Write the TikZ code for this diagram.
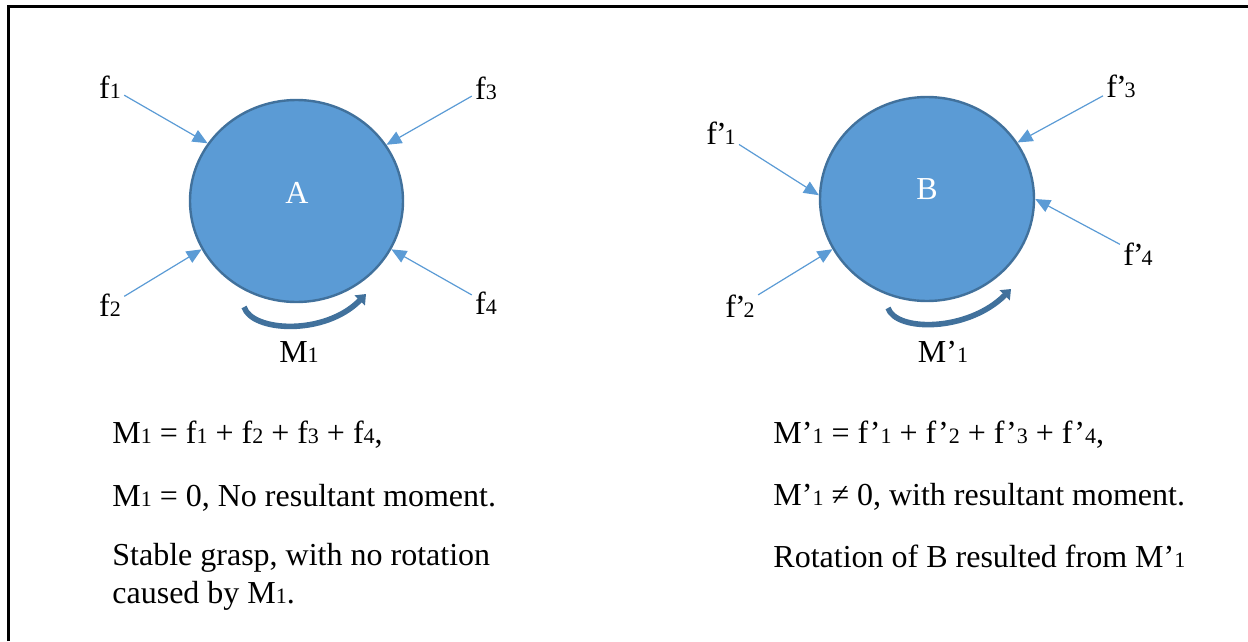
\documentclass[tikz,border=0pt]{standalone}
\usepackage{fontspec}
\setmainfont{Liberation Serif}
\usepackage{tikz}
\usetikzlibrary{shapes.geometric, arrows.meta, positioning}
\definecolor{fillblue}{HTML}{5B9BD5}
\definecolor{edgeblue}{HTML}{41719C}
\tikzset{
	body/.style={ellipse, draw=edgeblue, line width=1.2bp, fill=fillblue, inner sep=0pt, font=\fontsize{16bp}{19bp}\selectfont\color{white}}
}
\tikzset{
	forcelabel/.style={inner sep=1.5bp, font=\fontsize{16bp}{19bp}\selectfont}
}
\tikzset{
	forcearrow/.style={draw=fillblue, line width=0.6bp, -{Triangle[length=7.5bp, width=6.5bp]}}
}
\tikzset{
	moment/.style={draw=edgeblue, line width=2.8bp, -{Triangle[length=4.5bp, width=7bp]}}
}
\tikzset{
	eqtext/.style={anchor=base west, inner sep=0pt, font=\fontsize{16bp}{19bp}\selectfont}
}
\newcommand{\idx}[1]{{\fontsize{11bp}{13bp}\selectfont #1}}

\begin{document}
\begin{tikzpicture}[x=0.5bp, y=-0.5bp]
      \useasboundingbox (0,0) rectangle (1248,641);
      % frame
      \draw[line width=1.5bp] (8,641) -- (8,7) -- (1248,7);
      % body A
      \node[body, minimum width=106.5bp, minimum height=101bp] (circA) at (296.5,201) {};
      \node[forcelabel, text=white] (nameA) at (297,193) {A};
      \node[forcelabel] (f1) at (110,87) {f\idx{1}};
      \node[forcelabel] (f3) at (486,88) {f\idx{3}};
      \node[forcelabel] (f2) at (110,305) {f\idx{2}};
      \node[forcelabel] (f4) at (486,303) {f\idx{4}};
      \draw[forcearrow] (f1) -- (circA.147);
      \draw[forcearrow] (f3) -- (circA.32);
      \draw[forcearrow] (f2) -- (circA.207);
      \draw[forcearrow] (f4) -- (circA.333);
      \draw[moment] (244,307) .. controls (252,332) and (325,336) .. (366,294);
      \node[forcelabel] (mA) at (299,352) {M\idx{1}};
      % body B
      \node[body, minimum width=107bp, minimum height=102bp] (circB) at (927,199) {};
      \node[forcelabel, text=white] (nameB) at (927,189) {B};
      \node[forcelabel] (g1) at (721,133) {f\kern-0.5bp'\kern-1bp\idx{1}};
      \node[forcelabel] (g3) at (1121,86) {f\kern-0.5bp'\kern-1bp\idx{3}};
      \node[forcelabel] (g2) at (740,306) {f\kern-0.5bp'\kern-1bp\idx{2}};
      \node[forcelabel] (g4) at (1138,254) {f\kern-0.5bp'\kern-1bp\idx{4}};
      \draw[forcearrow] (g1) -- (circB.178);
      \draw[forcearrow] (g3) -- (circB.32);
      \draw[forcearrow] (g2) -- (circB.208);
      \draw[forcearrow] (g4) -- (circB.0);
      \draw[moment] (888,308) .. controls (896,332) and (968,332) .. (1011,289);
      \node[forcelabel] (mB) at (943,352) {M’\idx{1}};
      % equations
      \node[eqtext] (eqA1) at (112,443) {M\idx{1} = f\idx{1} + f\idx{2} + f\idx{3} + f\idx{4},};
      \node[eqtext] (eqA2) at (112,506) {M\idx{1} = 0, No resultant moment.};
      \node[eqtext] (eqA3) at (112,565) {Stable grasp, with no rotation};
      \node[eqtext] (eqA4) at (112,603) {caused by M\idx{1}.};
      \node[eqtext] (eqB1) at (773,443) {M’\idx{1} = f’\idx{1} + f’\idx{2} + f’\idx{3} + f’\idx{4},};
      \node[eqtext] (eqB2) at (773,505) {M’\idx{1} ≠ 0, with resultant moment.};
      \node[eqtext] (eqB3) at (773,567) {Rotation of B resulted from M’\idx{1}};
    \end{tikzpicture}
\end{document}
